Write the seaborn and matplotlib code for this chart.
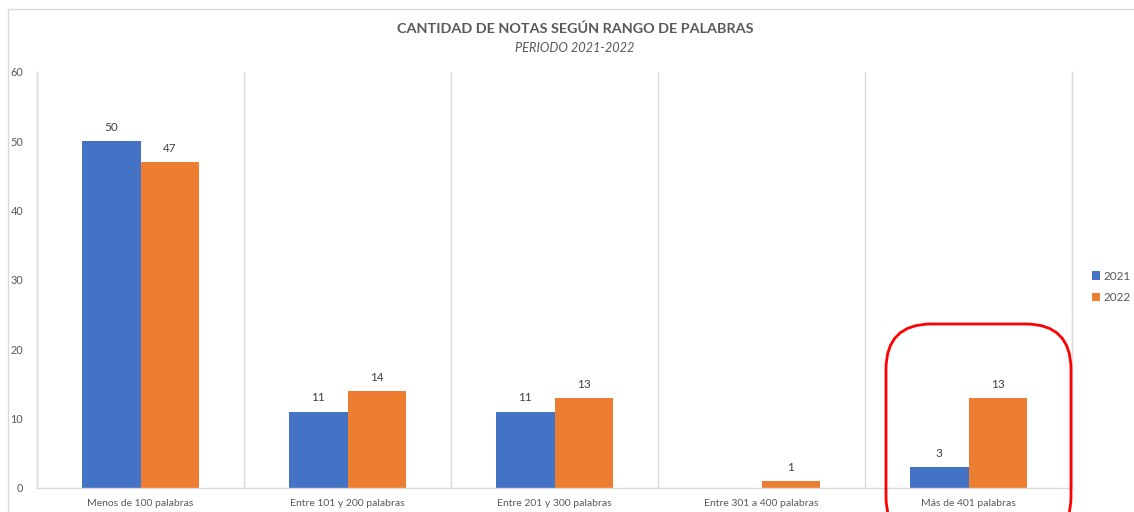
import numpy as np
import pandas as pd
import matplotlib
matplotlib.use("Agg")
import matplotlib.pyplot as plt
from matplotlib.patches import FancyBboxPatch, Rectangle, Patch
import seaborn as sns

categories = ["Menos de 100 palabras", "Entre 101 y 200 palabras", "Entre 201 y 300 palabras",
              "Entre 301 a 400 palabras", "Más de 401 palabras"]
series_names = ["2021", "2022"]
values_2021 = [50, 11, 11, np.nan, 3]
values_2022 = [47, 14, 13, 1, 13]
y_ticks = [0, 10, 20, 30, 40, 50, 60]

colors = {"2021": "#4472C4", "2022": "#ED7D31"}
text_gray = "#595959"
grid_gray = "#D9D9D9"

df = pd.DataFrame({
    "cat": categories * 2,
    "year": [series_names[0]] * len(categories) + [series_names[1]] * len(categories),
    "val": list(values_2021) + list(values_2022),
})

sns.set_theme(style="white")
plt.rcParams["font.family"] = ["Lato", "DejaVu Sans"]

W, H = 1134, 512
fig = plt.figure(figsize=(W / 100, H / 100), dpi=100)
ax = fig.add_axes([37 / W, 1 - 488 / H, (1072 - 37) / W, (488 - 72) / H])

sns.barplot(data=df, x="cat", y="val", hue="year", order=categories, hue_order=series_names,
            palette=colors, width=0.57, gap=0, saturation=1, errorbar=None, ax=ax, legend=False,
            linewidth=0, edgecolor="none")

for cont in ax.containers:
    labels = ["" if (np.isnan(v) or v == 0) else f"{v:g}" for v in cont.datavalues]
    ax.bar_label(cont, labels=labels, padding=6, fontsize=8.5, color="#404040")

ax.set_ylim(0, 60)
ax.set_xlim(-0.5, len(categories) - 0.5)
ax.set_yticks(y_ticks)
ax.set_yticklabels([str(t) for t in y_ticks], fontsize=7.8, color=text_gray)
ax.set_xticks(range(len(categories)))
ax.set_xticklabels(categories, fontsize=7.5, color=text_gray)
ax.tick_params(axis="y", length=0, pad=10)
ax.tick_params(axis="x", length=0, pad=8)
ax.set_xticks(np.arange(-0.5, len(categories), 1), minor=True)
ax.tick_params(axis="x", which="minor", length=0)
ax.grid(False)
ax.grid(which="minor", axis="x", color=grid_gray, linewidth=1)
ax.set_axisbelow(True)
ax.set_xlabel("")
ax.set_ylabel("")
ax.spines["top"].set_visible(False)
for s in ["left", "bottom", "right"]:
    ax.spines[s].set_color(grid_gray)
    ax.spines[s].set_linewidth(1)

# chart border
fig.add_artist(Rectangle((8 / W, -0.1), 1.2, 1 - 9 / H + 0.1, transform=fig.transFigure,
                         fill=False, edgecolor=grid_gray, linewidth=1))

fig.text(575 / W, 1 - 29 / H, "CANTIDAD DE NOTAS SEGÚN RANGO DE PALABRAS", ha="center", va="center",
         fontsize=10.4, fontweight="bold", color=text_gray)
fig.text(575 / W, 1 - 48 / H, "PERIODO 2021-2022", ha="center", va="center",
         fontsize=9.2, style="italic", color=text_gray)

handles = [Patch(facecolor=colors[n], edgecolor="none", label=n) for n in series_names]
fig.legend(handles=handles, loc="center left", bbox_to_anchor=(1086 / W, 1 - 287 / H), frameon=False,
           fontsize=8.5, handlelength=0.7, handleheight=0.7, handletextpad=0.3, labelspacing=0.9,
           labelcolor=text_gray, borderpad=0)

# red rounded highlight
fig.add_artist(FancyBboxPatch((886 / W, -30 / H), (1071 - 886) / W, (512 + 30 - 324) / H,
                              boxstyle="round,pad=0,rounding_size=0.04", transform=fig.transFigure,
                              fill=False, edgecolor="#FF0000", linewidth=2, mutation_aspect=W / H))

fig.savefig("out.png", dpi=100)
